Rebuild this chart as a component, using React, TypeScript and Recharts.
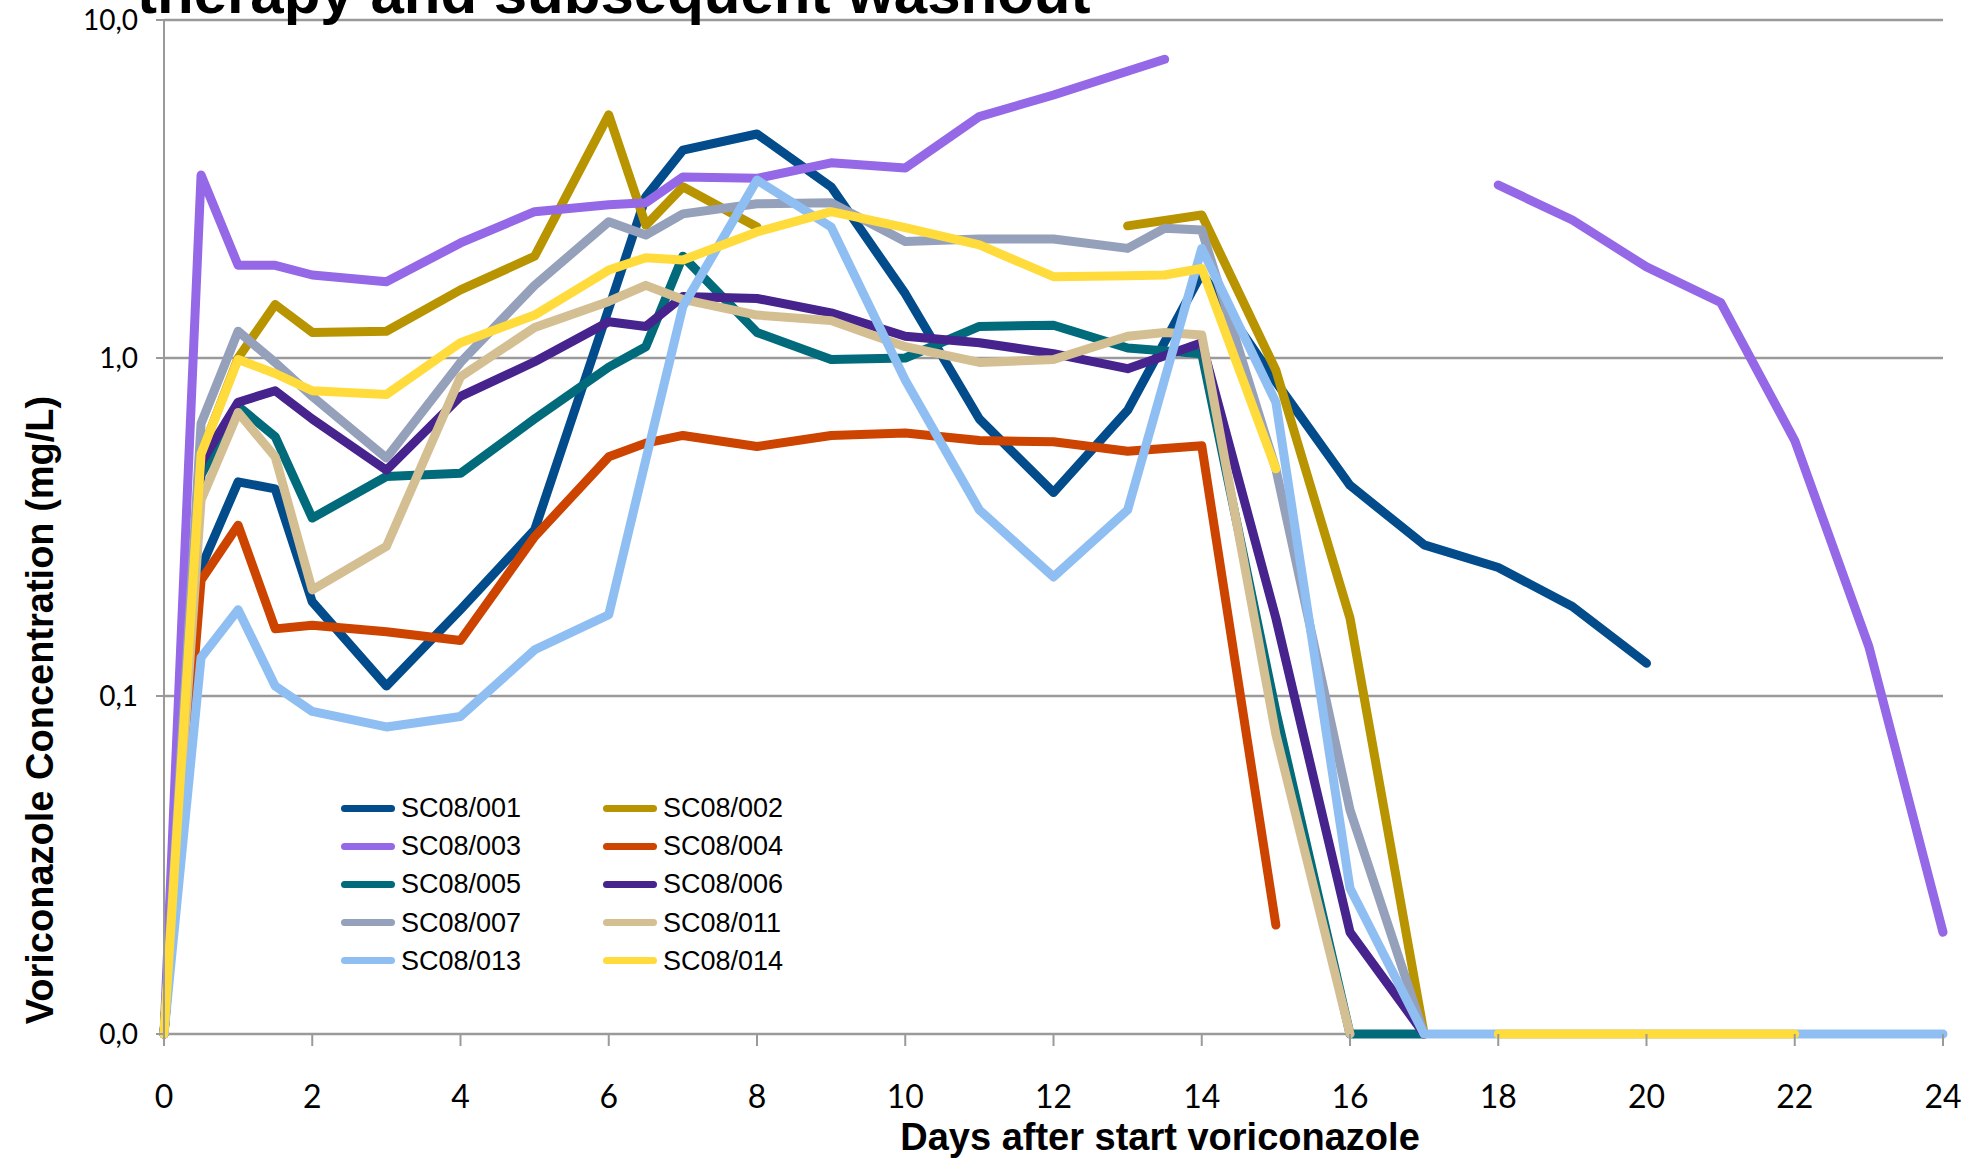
import React from "react";
import { CartesianGrid, Legend, Line, LineChart, XAxis, YAxis } from "recharts";

// sampling days (x)
const days = [0, 0.5, 1, 1.5, 2, 3, 4, 5, 6, 6.5, 7, 8, 9, 10, 11, 12, 13, 13.5, 14, 15, 16, 17, 18, 19, 20, 21, 22, 23, 24];

// undefined (__) = no sample that day, line runs through; null = break in the line
// 0.01 = below detection, drawn on the "0,0" floor of the log axis
const __ = undefined;

const sc001 = [0.01, 0.24, 0.43, 0.41, 0.19, 0.107, 0.18, 0.31, 1.4, 3.0, 4.12, 4.6, 3.21, 1.55, 0.66, 0.4, 0.7, __, 1.78, 0.85, 0.42, 0.28, 0.24, 0.184, 0.125, null, null, null, null];
const sc002 = [0.01, 0.52, 1.0, 1.44, 1.19, 1.2, 1.59, 2.0, 5.24, 2.47, 3.21, 2.44, null, null, null, null, 2.46, __, 2.65, 0.92, 0.17, 0.01, null, null, null, null, null, null, null];
const sc003 = [0.01, 3.48, 1.88, 1.88, 1.76, 1.68, 2.19, 2.71, 2.84, 2.88, 3.43, 3.4, 3.78, 3.65, 5.18, 6.0, __, 7.65, null, null, null, null, 3.25, 2.56, 1.86, 1.46, 0.57, 0.14, 0.02];
const sc004 = [0.01, 0.22, 0.32, 0.158, 0.162, 0.155, 0.146, 0.296, 0.51, 0.56, 0.59, 0.547, 0.59, 0.6, 0.57, 0.565, 0.53, __, 0.55, 0.021, null, null, null, null, null, null, null, null, null];
const sc005 = [0.01, 0.45, 0.72, 0.585, 0.336, 0.446, 0.456, 0.66, 0.94, 1.08, 2.0, 1.19, 0.99, 1.0, 1.24, 1.25, 1.07, __, 1.03, 0.09, 0.01, 0.01, null, null, null, null, null, null, null];
const sc006 = [0.01, 0.49, 0.74, 0.8, 0.66, 0.466, 0.77, 0.975, 1.28, 1.24, 1.52, 1.5, 1.36, 1.16, 1.11, 1.03, 0.93, __, 1.11, 0.17, 0.02, 0.01, null, null, null, null, null, null, null];
const sc007 = [0.01, 0.64, 1.2, 0.97, 0.77, 0.506, 0.97, 1.64, 2.53, 2.31, 2.67, 2.86, 2.88, 2.21, 2.25, 2.25, 2.11, 2.42, 2.39, 0.47, 0.046, 0.01, null, null, null, null, null, null, null];
const sc011 = [0.01, 0.38, 0.69, 0.51, 0.206, 0.277, 0.88, 1.23, 1.47, 1.64, 1.49, 1.34, 1.29, 1.08, 0.97, 0.99, 1.16, 1.19, 1.17, 0.077, 0.01, null, null, null, null, null, null, null, null];
const sc013 = [0.01, 0.13, 0.18, 0.107, 0.09, 0.081, 0.087, 0.137, 0.174, 0.5, 1.42, 3.36, 2.44, 0.86, 0.355, 0.225, 0.355, __, 2.11, 0.74, 0.027, 0.01, 0.01, 0.01, 0.01, 0.01, 0.01, 0.01, 0.01];
const sc014 = [0.01, 0.52, 0.99, 0.9, 0.8, 0.78, 1.11, 1.34, 1.82, 1.98, 1.95, 2.36, 2.71, 2.43, 2.16, 1.74, 1.75, 1.76, 1.84, 0.47, null, null, 0.01, 0.01, 0.01, 0.01, 0.01, null, null];

const xTicks = [0, 2, 4, 6, 8, 10, 12, 14, 16, 18, 20, 22, 24];
const yTicks = [0.01, 0.1, 1, 10];

const series = [
  { name: "SC08/001", color: "#034C8C", values: sc001 },
  { name: "SC08/002", color: "#B89400", values: sc002 },
  { name: "SC08/003", color: "#9468E6", values: sc003 },
  { name: "SC08/004", color: "#CC4400", values: sc004 },
  { name: "SC08/005", color: "#016B7C", values: sc005 },
  { name: "SC08/006", color: "#47238D", values: sc006 },
  { name: "SC08/007", color: "#95A0BB", values: sc007 },
  { name: "SC08/011", color: "#D4BF93", values: sc011 },
  { name: "SC08/013", color: "#8FBFF2", values: sc013 },
  { name: "SC08/014", color: "#FFDC3C", values: sc014 },
];

const gridColor = "#9a9a9a";
const sans = "'Liberation Sans', Arial, sans-serif";
const tickFont = "Lato, 'Liberation Sans', sans-serif";

const toPoints = (values: (number | null | undefined)[]) =>
  days.map((day, i) => ({ day, v: values[i] })).filter((p) => p.v !== undefined);

/** two-column legend, row-major like the original */
function LegendGrid(): React.JSX.Element {
  return (
    <div style={{ position: "relative", width: 420, height: 192, fontFamily: sans }}>
      {series.map((s, i) => (
        <div
          key={s.name}
          style={{
            position: "absolute",
            left: (i % 2) * 262,
            top: Math.floor(i / 2) * 38.2,
            height: 38,
            display: "flex",
            alignItems: "center",
          }}
        >
          <div style={{ width: 54, height: 7, borderRadius: 3.5, background: s.color }} />
          <span style={{ marginLeft: 6, fontSize: 27, lineHeight: "38px", color: "#000" }}>{s.name}</span>
        </div>
      ))}
    </div>
  );
}

export default function App(): React.JSX.Element {
  return (
    <div style={{ position: "absolute", left: 0, top: 0, width: 1977, height: 1168, background: "#fff" }}>
      <LineChart width={1977} height={1168} margin={{ top: 20, right: 34, bottom: 0, left: 0 }}>
        {/* grid's bottom line doubles as the x axis line, so it stays under the series */}
        <CartesianGrid vertical={false} stroke={gridColor} strokeWidth={2.5} />
        <XAxis
          type="number"
          dataKey="day"
          domain={[0, 24]}
          ticks={xTicks}
          height={134}
          tickSize={12}
          tickMargin={39}
          axisLine={false}
          tickLine={{ stroke: gridColor, strokeWidth: 2 }}
          tick={{ fontSize: 32, fill: "#000", fontFamily: tickFont }}
        />
        <YAxis
          scale="log"
          domain={[0.01, 10]}
          ticks={yTicks}
          width={164}
          tickSize={8}
          tickMargin={18}
          axisLine={{ stroke: gridColor, strokeWidth: 2 }}
          tickLine={{ stroke: gridColor, strokeWidth: 2 }}
          tick={{ fontSize: 28, fill: "#000", fontFamily: tickFont }}
          tickFormatter={(v: number) => v.toFixed(1).replace(".", ",")}
        />
        {series.map((s) => (
          <Line
            key={s.name}
            data={toPoints(s.values)}
            dataKey="v"
            name={s.name}
            type="linear"
            stroke={s.color}
            strokeWidth={9}
            strokeLinecap="round"
            strokeLinejoin="round"
            dot={false}
            activeDot={false}
            isAnimationActive={false}
          />
        ))}
        <Legend
          layout="horizontal"
          verticalAlign="middle"
          align="center"
          wrapperStyle={{ left: 341, top: 789, width: 420, height: 192 }}
          content={() => <LegendGrid />}
        />
        <text x={137} y={13} fontSize={60} fontWeight="bold" fontFamily={sans} fill="#000">
          therapy and subsequent washout
        </text>
        <text
          x={53}
          y={710}
          transform="rotate(-90, 53, 710)"
          textAnchor="middle"
          fontSize={38}
          fontWeight="bold"
          fontFamily={sans}
          fill="#000"
        >
          Voriconazole Concentration (mg/L)
        </text>
        <text x={1160} y={1150} textAnchor="middle" fontSize={38} fontWeight="bold" fontFamily={sans} fill="#000">
          Days after start voriconazole
        </text>
      </LineChart>
    </div>
  );
}
